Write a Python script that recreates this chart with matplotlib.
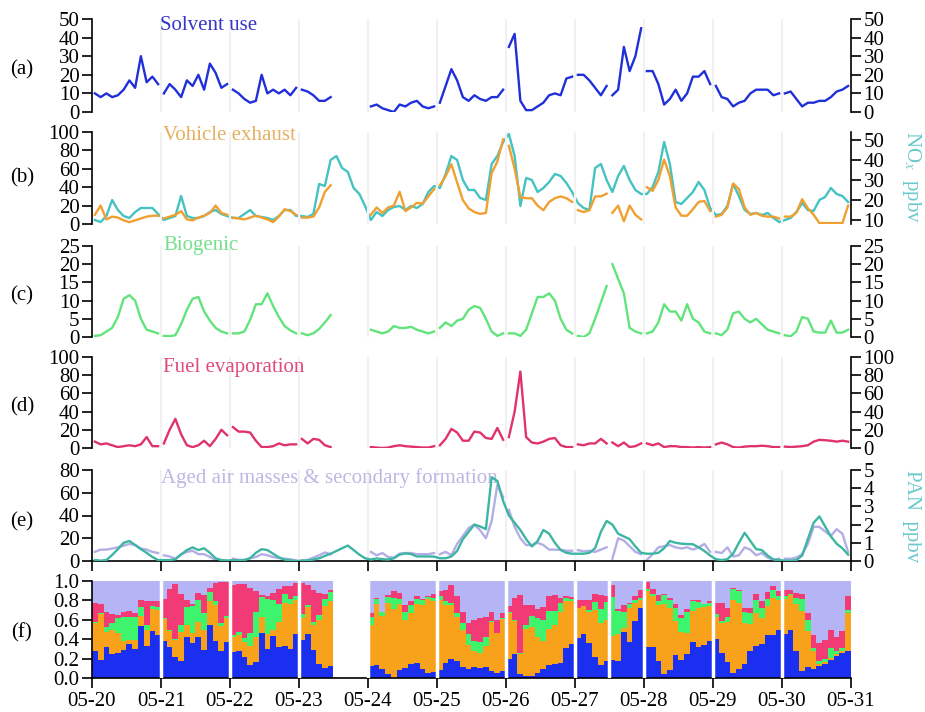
import numpy as np
import matplotlib.pyplot as plt

plt.rcParams['font.family'] = ['Liberation Serif', 'DejaVu Serif']
plt.rcParams['mathtext.fontset'] = 'stix'
plt.rcParams['font.size'] = 15

nan = np.nan

# 2-hour means, 12 values per day (hours 1,3,...,23), 05-20 .. 05-30
day_labels = ['05-20', '05-21', '05-22', '05-23', '05-24', '05-25',
              '05-26', '05-27', '05-28', '05-29', '05-30', '05-31']

solvent = [
    10, 8, 10, 8, 9, 12, 17, 13, 30, 16, 19, 15,
    10, 15, 12, 8, 17, 14, 20, 12, 26, 21, 13, 15,
    12, 10, 7, 5, 6, 20, 10, 12, 10, 12, 9, 13,
    12, 11, 9, 6, 6, 8, nan, nan, nan, nan, nan, nan,
    3, 4, 2, 1, 0, 4, 3, 5, 6, 3, 2, 3,
    5, 14, 23, 17, 8, 6, 9, 7, 6, 8, 8, 12,
    35, 42, 6, 1, 1, 3, 5, 9, 10, 9, 18, 19,
    20, 20, 17, 13, 9, 14, 9, 12, 35, 22, 30, 45,
    22, 22, 15, 4, 7, 12, 6, 10, 19, 19, 22, 15,
    14, 8, 7, 3, 5, 6, 10, 12, 12, 12, 9, 10,
    10, 11, 7, 3, 5, 5, 6, 6, 8, 11, 12, 14,
]

vehicle = [
    10, 20, 5, 8, 7, 4, 2, 4, 6, 8, 9, 9,
    6, 8, 10, 14, 5, 4, 7, 9, 12, 20, 12, 10,
    7, 6, 5, 7, 9, 7, 5, 2, 8, 16, 14, 10,
    7, 7, 8, 18, 35, 42, nan, nan, nan, nan, nan, nan,
    10, 18, 12, 18, 20, 35, 14, 18, 23, 22, 30, 38,
    42, 52, 65, 45, 26, 17, 13, 11, 12, 55, 68, 92,
    85, 60, 29, 28, 28, 20, 15, 24, 28, 30, 28, 24,
    15, 13, 15, 30, 30, 33, 12, 20, 3, 20, 10, 5,
    40, 36, 48, 70, 52, 18, 9, 9, 16, 24, 25, 14,
    8, 10, 18, 44, 38, 18, 10, 12, 9, 8, 8, 6,
    8, 8, 12, 27, 17, 10, 1, 1, 1, 1, 1, 20,
]

nox = [
    10, 9, 12, 20, 15, 12, 11, 14, 16, 16, 16, 13,
    10, 11, 12, 22, 12, 11, 11, 12, 14, 15, 13, 12,
    11, 11, 13, 15, 12, 11.5, 11, 10, 12, 15, 15, 12,
    12, 11.5, 13, 28, 27, 40, 42, 36, 34, 26, 23, 17,
    10, 14, 12, 15, 16.5, 17, 15, 17, 16, 18, 24, 27,
    26, 33, 42, 40, 30, 25, 25, 21, 20, 38, 42, 49,
    53, 42, 17, 31, 30, 24, 26, 29, 33, 32, 28.5, 24,
    18.5, 16, 15, 36, 38, 30, 24, 32, 37, 30, 25, 23,
    23, 26.5, 34, 49, 38, 19, 18, 21, 24, 29, 25, 16,
    12.5, 13, 17, 28, 22, 15, 13, 13.5, 12.5, 13.5, 11, 9,
    10, 11, 14, 18.5, 15, 14.5, 20, 21.5, 26, 23, 22, 19,
]

biogenic = [
    0.3, 0.5, 1.5, 2.5, 5.5, 10.5, 11.5, 10, 5, 2, 1.5, 1,
    0.3, 0.2, 0.5, 3.5, 7.5, 10.5, 11, 7, 4.5, 2.5, 1.5, 1,
    1, 1, 1.5, 4.7, 9, 9, 12, 8.5, 5.5, 3, 1.8, 1,
    1, 0.5, 1, 2.2, 4, 6, nan, nan, nan, nan, nan, nan,
    2, 1.5, 1, 1.5, 3, 2.5, 2.5, 2.8, 2, 1.5, 1, 1.5,
    2.5, 4, 3, 4.5, 5, 7.5, 8.5, 8, 5, 1.5, 0.3, 1,
    1, 1, 0.3, 2, 6.5, 11, 11, 12, 10, 5, 2, 1,
    0.3, 0, 1, 5, 9.5, 14, 20, 16, 12, 2.5, 1.5, 1,
    1, 1.5, 4, 9, 7, 7, 4.5, 9, 5, 4, 1.5, 1,
    1, 0.5, 2, 6.5, 7, 5, 4, 5, 3.5, 2, 1.5, 1,
    0.5, 0.2, 1.5, 5.5, 5, 1.5, 1.2, 1.2, 4.5, 1.2, 1.2, 2,
]

fuel = [
    7, 4, 5, 3, 1, 2, 3, 2, 4, 12, 2, 2,
    5, 20, 32, 15, 3, 1, 3, 8, 2, 10, 20, 14,
    23, 18, 18, 17, 8, 1, 1, 2, 5, 3, 4, 4,
    10, 5, 10, 9, 3, 1, nan, nan, nan, nan, nan, nan,
    1, 0.5, 0, 0.5, 2, 3, 2, 1.5, 1, 0.5, 0.5, 2,
    3, 10, 21, 17, 8, 8, 18, 17, 11, 10, 22, 9,
    12, 40, 84, 12, 6, 5, 7, 10, 11, 3, 1, 1,
    4, 3, 5, 5, 10, 5, 6, 2, 6, 1, 2, 5,
    5, 3, 5, 1, 2, 2, 1, 1, 0.5, 1, 0.5, 1,
    4, 6, 4, 1, 0.5, 1.5, 2, 2, 2.5, 2, 1, 1,
    1.5, 1, 1.5, 2, 3, 7, 9, 8.5, 8, 7, 8, 7,
]

aged = [
    8, 10, 10, 11, 12, 13.5, 15, 14, 11, 10, 8, 7,
    5, 4, 2, 6, 8, 9, 6, 6, 3.5, 1, 0.5, 0.5,
    2, 1, 1, 2.5, 3.5, 6, 5, 3.5, 2.5, 2, 1.5, 0.5,
    0.5, 1, 3, 5, 7.5, 6, nan, nan, nan, nan, nan, nan,
    8, 5, 7, 3.5, 3, 6.5, 7, 7, 6, 6, 6, 7,
    6, 8, 5, 15, 22, 29, 32, 27, 20, 35, 67, 56,
    45, 30, 20, 14, 14, 16, 14, 10, 10, 10, 9, 9,
    9.5, 8.5, 9, 8, 10, 12, 2, 20, 18, 13, 8, 6,
    1, 6, 12, 13, 14, 12, 11, 12, 10, 12, 15, 8,
    8, 7, 12, 4, 5, 12, 10, 5, 7, 3, 1, 2,
    2, 2, 3, 6, 15, 30, 30, 26, 22, 28, 24, 8,
]

pan = [
    0.05, 0.02, 0.05, 0.33, 0.65, 1.0, 1.1, 0.88, 0.65, 0.45, 0.22, 0.05,
    0.05, 0.05, 0.1, 0.35, 0.6, 0.75, 0.6, 0.7, 0.45, 0.15, 0.05, 0.02,
    0.05, 0.03, 0.05, 0.15, 0.45, 0.65, 0.6, 0.4, 0.2, 0.08, 0.03, 0.0,
    0.02, 0.03, 0.08, 0.15, 0.28, 0.4, 0.55, 0.7, 0.85, 0.6, 0.35, 0.15,
    0.08, 0.14, 0.1, 0.08, 0.15, 0.35, 0.42, 0.38, 0.25, 0.25, 0.25, 0.24,
    0.15, 0.15, 0.25, 0.55, 1.2, 1.6, 2.0, 1.9, 1.75, 4.6, 4.4, 3.3,
    2.5, 2.1, 1.7, 1.2, 0.8, 1.1, 1.7, 1.5, 1.0, 0.6, 0.45, 0.4,
    0.4, 0.4, 0.45, 0.7, 1.6, 2.2, 2.0, 1.5, 1.35, 1.2, 0.8, 0.45,
    0.4, 0.4, 0.45, 0.7, 1.1, 1.0, 0.95, 0.93, 0.92, 0.75, 0.55, 0.3,
    0.1, 0.05, 0.1, 0.4, 1.0, 1.55, 1.1, 0.65, 0.6, 0.3, 0.08, 0.05,
    0.02, 0.02, 0.05, 0.3, 1.2, 2.1, 2.45, 1.9, 1.35, 0.95, 0.7, 0.35,
]

# time axis in days since 05-20 00:00
hours = np.arange(1, 24, 2)
t = np.array([d + h / 24 for d in range(11) for h in hours])
breaks = list(range(12)) + [7.5]


def broken(y):
    """Insert NaNs at midnight and at the 05-27 noon gap so lines split."""
    tt = np.concatenate([t, breaks])
    yy = np.concatenate([np.asarray(y, float), np.full(len(breaks), nan)])
    o = np.argsort(tt, kind='stable')
    return tt[o], yy[o]


c_solv, c_veh, c_nox = '#2030d8', '#f0a030', '#45c2c2'
c_bio, c_fuel, c_aged, c_pan = '#62e47c', '#e0336c', '#b3aee6', '#3db5a3'
lw = 1.7

fig = plt.figure(figsize=(9.25, 7.12), dpi=100)


def panel(top, bottom):
    return fig.add_axes([92 / 925, 1 - bottom / 712, 759 / 925, (bottom - top) / 712])


def style(ax, ymax, step, right=True, xaxis=False):
    ax.set_xlim(0, 11)
    ax.set_ylim(0, ymax)
    ax.set_yticks(np.arange(0, ymax + step / 2, step))
    ax.spines['top'].set_visible(False)
    ax.spines['right'].set_visible(right)
    ax.spines['bottom'].set_visible(xaxis)
    for s in ax.spines.values():
        s.set_linewidth(1.2)
    ax.tick_params(axis='y', direction='out', length=7, width=1.2, pad=2,
                   right=right, labelright=right)
    ax.tick_params(axis='x', direction='out', length=7, width=1.2,
                   bottom=xaxis, labelbottom=False)
    ax.set_xticks(range(12))
    ax.patch.set_visible(False)


def grid(ax):
    for d in range(1, 11):
        ax.axvline(d, color='#f1f1f1', lw=1.5, zorder=0)


ax_a = panel(19, 112)
ax_b = panel(132, 224)
ax_c = panel(246, 337)
ax_d = panel(357, 448)
ax_e = panel(470, 561)
ax_f = panel(581, 678)

# (a) solvent use
style(ax_a, 50, 10)
grid(ax_a)
ax_a.plot(*broken(solvent), color=c_solv, lw=lw)
ax_a.text(0.0896, 0.935, 'Solvent use', transform=ax_a.transAxes,
          color='#3535c8', va='center')

# (b) vehicle exhaust with NOx on the right
style(ax_b, 100, 20, right=False)
grid(ax_b)
ax_b2 = ax_b.twinx()
ax_b2.set_ylim(8, 54)
ax_b2.set_yticks([10, 20, 30, 40, 50])
for s in ['top', 'bottom', 'left']:
    ax_b2.spines[s].set_visible(False)
ax_b2.spines['right'].set_linewidth(1.2)
ax_b2.tick_params(axis='y', direction='out', length=7, width=1.2, pad=2)
ax_b2.plot(t, nox, color=c_nox, lw=lw)
ax_b.set_zorder(ax_b2.get_zorder() + 1)
ax_b.plot(*broken(vehicle), color=c_veh, lw=lw)
ax_b.text(0.0935, 0.967, 'Vohicle exhaust', transform=ax_b.transAxes,
          color='#e6b060', va='center')

# (c) biogenic
style(ax_c, 25, 5)
grid(ax_c)
ax_c.plot(*broken(biogenic), color=c_bio, lw=lw)
ax_c.text(0.0935, 1.01, 'Biogenic', transform=ax_c.transAxes,
          color='#74e08c', va='center')

# (d) fuel evaporation
style(ax_d, 100, 20)
grid(ax_d)
ax_d.plot(*broken(fuel), color=c_fuel, lw=lw)
ax_d.text(0.0935, 0.89, 'Fuel evaporation', transform=ax_d.transAxes,
          color='#e04a7c', va='center')

# (e) aged air masses with PAN on the right
style(ax_e, 80, 20, right=False, xaxis=True)
grid(ax_e)
ax_e.plot(*broken(aged), color=c_aged, lw=lw)
ax_e2 = ax_e.twinx()
ax_e2.set_ylim(0, 5)
ax_e2.set_yticks(range(6))
for s in ['top', 'bottom', 'left']:
    ax_e2.spines[s].set_visible(False)
ax_e2.spines['right'].set_linewidth(1.2)
ax_e2.tick_params(axis='y', direction='out', length=7, width=1.2, pad=2)
ax_e2.plot(t, pan, color=c_pan, lw=lw)
ax_e.text(0.0915, 0.91, 'Aged air masses & secondary formation',
          transform=ax_e.transAxes, color='#bcb8e4', va='center')

# (f) relative contribution of each source, stacked as 2-hour steps
sources = np.array([solvent, vehicle, biogenic, fuel, aged], float)
total = sources.sum(axis=0)
ok = ~np.isnan(total)
frac = sources / total
stack_colors = ['#1a2ff0', '#f8a21c', '#3ef46c', '#f23a77', '#b5b5f5']
style(ax_f, 1.0, 0.2, right=False, xaxis=True)
ax_f.set_yticklabels(['%.1f' % v for v in np.arange(0, 1.01, 0.2)])

# contiguous runs of valid samples
runs, cur = [], []
for i in range(len(t)):
    if ok[i]:
        cur.append(i)
    elif cur:
        runs.append(cur)
        cur = []
if cur:
    runs.append(cur)

cum = np.vstack([np.zeros(len(t)), np.cumsum(frac, axis=0)])
for run in runs:
    run = np.array(run)
    xs = np.append(t[run] - 1 / 24, t[run][-1] + 1 / 24)
    for k, col in enumerate(stack_colors):
        lo = np.append(cum[k, run], cum[k, run][-1])
        hi = np.append(cum[k + 1, run], cum[k + 1, run][-1])
        ax_f.fill_between(xs, lo, hi, step='post', color=col, lw=0, zorder=1)
for d in list(range(1, 11)) + [7.5]:
    ax_f.axvline(d, color='white', lw=2.5, zorder=3)
ax_f.tick_params(axis='x', labelbottom=True, pad=3)
ax_f.set_xticklabels(day_labels)

# panel letters and right-hand axis titles
for lab, y in zip('abcdef', [70, 178, 296, 407, 522, 633]):
    fig.text(22 / 925, 1 - y / 712, '(%s)' % lab, ha='center', va='center')
fig.text(911 / 925, 1 - 177 / 712, 'NO$_x$  ppbv', rotation=270, ha='center',
         va='center', color='#6cc9c9')
fig.text(911 / 925, 1 - 516 / 712, 'PAN  ppbv', rotation=270, ha='center',
         va='center', color='#6cc9c9')

fig.savefig('out.png', dpi=100)
